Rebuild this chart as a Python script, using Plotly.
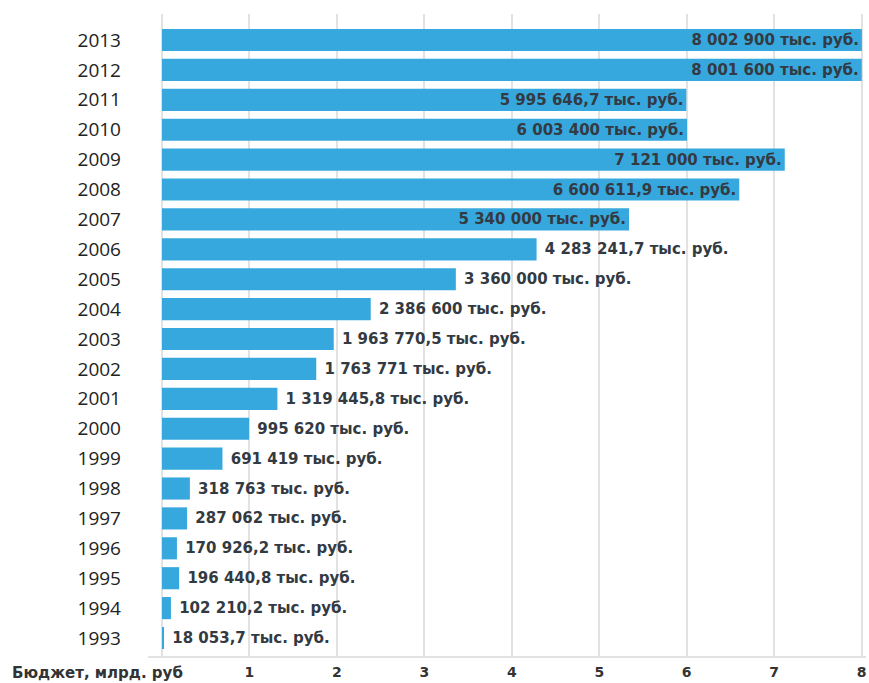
import plotly.graph_objects as go

# Annual budget, thousand rubles
years = [1993, 1994, 1995, 1996, 1997, 1998, 1999, 2000, 2001, 2002, 2003,
         2004, 2005, 2006, 2007, 2008, 2009, 2010, 2011, 2012, 2013]
budget_k = [18053.7, 102210.2, 196440.8, 170926.2, 287062, 318763, 691419,
            995620, 1319445.8, 1763771, 1963770.5, 2386600, 3360000,
            4283241.7, 5340000, 6600611.9, 7121000, 6003400, 5995646.7,
            8001600, 8002900]
x_ticks = [1, 2, 3, 4, 5, 6, 7, 8]
x_title = "Бюджет, млрд. руб"


def fmt_rub(v):
    whole = int(v)
    frac = round((v - whole) * 10)
    s = f"{whole:,}".replace(",", " ")
    if frac:
        s += f",{frac}"
    return s + " тыс. руб."


cats = [str(y) for y in years]
xb = [v / 1e6 for v in budget_k]
labels = [fmt_rub(v) for v in budget_k]
positions = ["inside" if v >= 5e6 else "outside" for v in budget_k]
labels = [t if p == "inside" else "\u00a0" + t for t, p in zip(labels, positions)]

W, H = 869, 683
ml, mr, mt, mb = 162, 3, 14, 26
plot_w = W - ml - mr
plot_h = H - mt - mb

fig = go.Figure(go.Bar(
    y=cats, x=xb, orientation="h",
    marker=dict(color="#37a8dd", line=dict(width=0)),
    text=labels, textposition=positions,
    insidetextanchor="end", constraintext="none",
    textfont=dict(family="DejaVu Sans", size=15, color="#333a42", weight="bold"),
    cliponaxis=False,
))

fig.update_layout(
    width=W, height=H,
    margin=dict(l=ml, r=mr, t=mt, b=mb, autoexpand=False),
    plot_bgcolor="white", paper_bgcolor="white",
    bargap=0.26, showlegend=False,
    xaxis=dict(range=[0, 8.05], tickvals=x_ticks, showgrid=True,
               gridcolor="#e2e2e2", gridwidth=2, zeroline=True,
               zerolinecolor="#e2e2e2", zerolinewidth=2, ticks="",
               ticklabelstandoff=5, automargin=False,
               tickfont=dict(family="DejaVu Sans", size=14, color="#333",
                             weight="bold")),
    yaxis=dict(type="category", categoryorder="array", categoryarray=cats,
               range=[-0.635, 20.87], showgrid=False, zeroline=False,
               ticks="", ticklabelstandoff=40, automargin=False,
               tickfont=dict(family="Open Sans", size=19, color="#222")),
    shapes=[dict(type="line", xref="paper", yref="paper",
                 x0=-14 / plot_w, x1=1, y0=0, y1=0,
                 line=dict(color="#e2e2e2", width=2))],
    annotations=[dict(text=x_title, xref="paper", yref="paper",
                      x=(10 - ml) / plot_w, y=-16 / plot_h,
                      xanchor="left", yanchor="middle", showarrow=False,
                      font=dict(family="DejaVu Sans", size=15, color="#333",
                                weight="bold"))],
)

fig.write_html("out.html")
